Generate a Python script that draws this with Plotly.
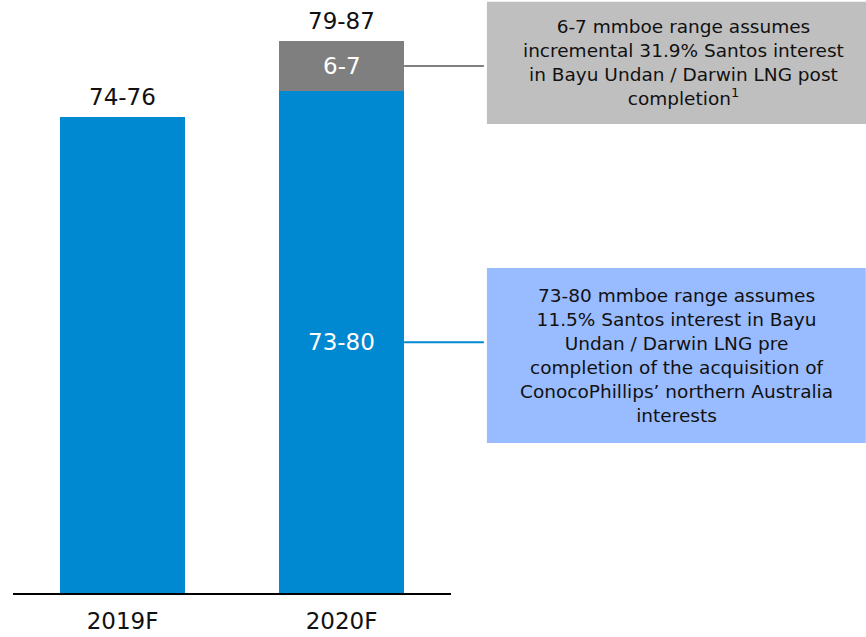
"""Santos production guidance bar chart (2019F vs 2020F)."""
import plotly.graph_objects as go

# data
CATEGORIES = ["2019F", "2020F"]
BASE_VALUES = [75, 79]          # blue segment height (mmboe)
INCREMENT_VALUES = [0, 8]       # grey segment on top of 2020F
SEGMENT_LABELS = ["", "73-80"]
INCREMENT_LABELS = ["", "6-7"]
TOTAL_LABELS = ["74-76", "79-87"]
Y_MAX = 93.4

NOTE_GREY = ("6-7 mmboe range assumes<br>incremental 31.9% Santos interest<br>"
             "in Bayu Undan / Darwin LNG post<br>completion<sup>1</sup>")
NOTE_BLUE = ("73-80 mmboe range assumes<br>11.5% Santos interest in Bayu<br>"
             "Undan / Darwin LNG pre<br>completion of the acquisition of<br>"
             "ConocoPhillips’ northern Australia<br>interests")

COLORS = {
    "blue": "#0088D1",
    "grey": "#7F7F7F",
    "box_grey": "#BFBFBF",
    "box_blue": "#99BBFF",
    "text": "#111111",
}
FONT = "DejaVu Sans, Verdana, sans-serif"
BAR_W = 0.57

fig = go.Figure()
fig.add_trace(go.Bar(
    x=CATEGORIES,
    y=BASE_VALUES,
    marker=dict(color=COLORS["blue"], line=dict(width=0)),
    width=BAR_W,
    hoverinfo="skip",
))
# only draw the grey segment where there is one
inc_x = [c for c, v in zip(CATEGORIES, INCREMENT_VALUES) if v]
inc_y = [v for v in INCREMENT_VALUES if v]
fig.add_trace(go.Bar(
    x=inc_x,
    y=inc_y,
    marker=dict(color=COLORS["grey"], line=dict(width=0)),
    width=BAR_W,
    hoverinfo="skip",
))

# labels inside segments and above bars
for cat, b, inc, seg, inc_lab, tot in zip(CATEGORIES, BASE_VALUES, INCREMENT_VALUES,
                                          SEGMENT_LABELS, INCREMENT_LABELS, TOTAL_LABELS):
    if seg:
        fig.add_annotation(x=cat, y=b / 2, text=seg, showarrow=False,
                           font=dict(size=23, color="white", family=FONT))
    if inc_lab:
        fig.add_annotation(x=cat, y=b + inc / 2, text=inc_lab, showarrow=False,
                           font=dict(size=23, color="white", family=FONT))
    fig.add_annotation(
        x=cat, y=b + inc, text=tot, showarrow=False,
        yanchor="bottom", yshift=5,
        font=dict(size=23, color=COLORS["text"], family=FONT),
    )

# callout boxes (paper coords, right of plot area)
line_x0, line_x1 = 0.893, 1.075
grey_box = (1.082, 1.979, 0.791, 0.997)
blue_box = (1.082, 1.947, 0.253, 0.548)
grey_mid = (BASE_VALUES[1] + INCREMENT_VALUES[1] / 2) / Y_MAX
blue_mid = (BASE_VALUES[1] / 2) / Y_MAX

fig.add_shape(type="line", xref="paper", yref="paper",
              x0=line_x0, x1=line_x1, y0=grey_mid, y1=grey_mid,
              line=dict(color=COLORS["grey"], width=2))
fig.add_shape(type="line", xref="paper", yref="paper",
              x0=line_x0, x1=line_x1, y0=blue_mid, y1=blue_mid,
              line=dict(color=COLORS["blue"], width=2))

for note, (x0, x1, y0, y1), fill in [(NOTE_GREY, grey_box, COLORS["box_grey"]),
                                     (NOTE_BLUE, blue_box, COLORS["box_blue"])]:
    fig.add_shape(type="rect", xref="paper", yref="paper",
                  x0=x0, x1=x1, y0=y0, y1=y1,
                  fillcolor=fill, line=dict(width=0))
    fig.add_annotation(
        xref="paper", yref="paper", x=(x0 + x1) / 2, y=(y0 + y1) / 2,
        xanchor="center", yanchor="middle",
        text=note, showarrow=False, align="center",
        font=dict(size=18.5, color=COLORS["text"], family=FONT),
    )

fig.update_layout(
    width=866, height=637,
    barmode="stack",
    showlegend=False,
    plot_bgcolor="white",
    paper_bgcolor="white",
    margin=dict(l=13, r=415, t=0, b=44),
    font=dict(family=FONT, color=COLORS["text"]),
    xaxis=dict(
        showline=True, linecolor="black", linewidth=2,
        ticks="", showgrid=False, zeroline=False,
        tickfont=dict(size=23, family=FONT, color=COLORS["text"]),
        ticklabelstandoff=6,
    ),
    yaxis=dict(
        range=[0, Y_MAX], visible=False, showgrid=False, zeroline=False,
    ),
)

fig.write_html(
    "out.html",
    config={"displayModeBar": False},
    post_script="document.body.style.margin='0';document.body.style.overflow='hidden';",
)
